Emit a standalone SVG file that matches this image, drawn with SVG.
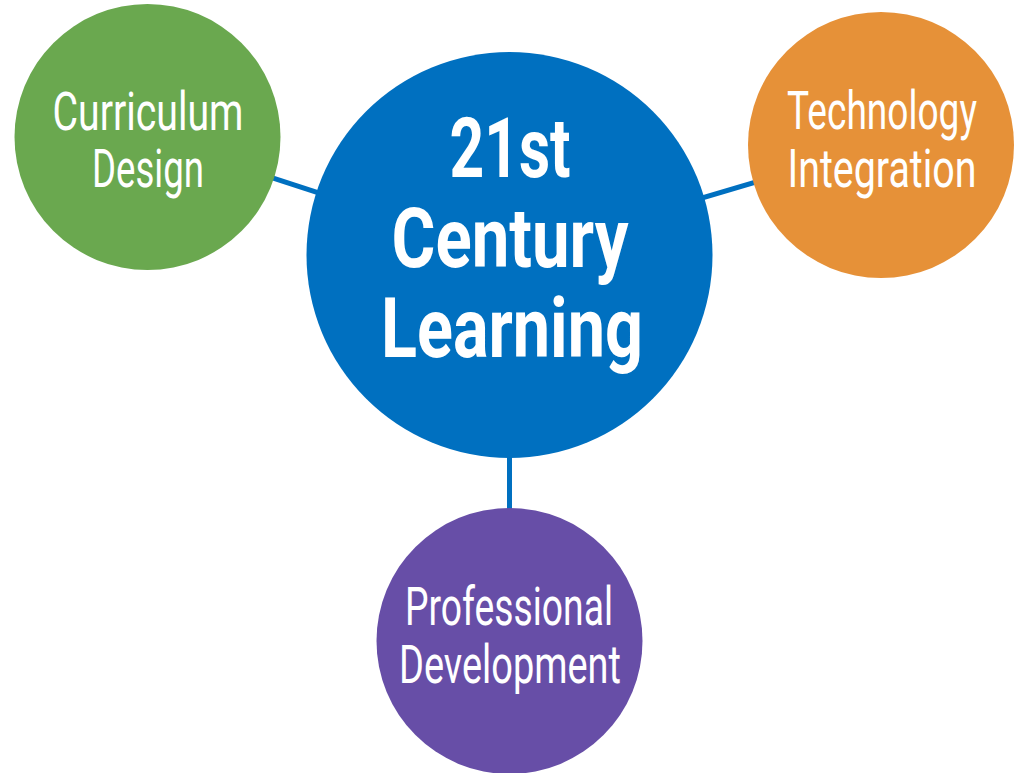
<svg xmlns="http://www.w3.org/2000/svg" width="1021" height="773" viewBox="0 0 1021 773">
<style>
.lbl{font-family:Roboto,"Liberation Sans",sans-serif;fill:#fff;text-anchor:middle;font-size:53px}
.main{font-family:Roboto,"Liberation Sans",sans-serif;fill:#fff;text-anchor:middle;font-size:84px;font-weight:bold}
.conn{stroke:#0070C0;stroke-width:5;fill:none}
</style>
<rect width="1021" height="773" fill="#fff"/>
<g id="connectors">
<line class="conn" x1="147" y1="137" x2="509.5" y2="255"/>
<line class="conn" x1="881" y1="145" x2="509.5" y2="255"/>
<line class="conn" x1="509.5" y1="255" x2="509.5" y2="641"/>
</g>
<g id="node-curriculum">
<circle cx="147.5" cy="137" r="133" fill="#6AA84F"/>
<text class="lbl" x="148" y="130" textLength="191" lengthAdjust="spacingAndGlyphs">Curriculum</text>
<text class="lbl" x="148" y="187" textLength="112" lengthAdjust="spacingAndGlyphs">Design</text>
</g>
<g id="node-technology">
<circle cx="881" cy="145" r="133" fill="#E69138"/>
<text class="lbl" x="882" y="129" textLength="190" lengthAdjust="spacingAndGlyphs">Technology</text>
<text class="lbl" x="882" y="187" textLength="189" lengthAdjust="spacingAndGlyphs">Integration</text>
</g>
<g id="node-center">
<circle cx="509.5" cy="255" r="203" fill="#0070C0"/>
<text class="main" x="510" y="177" textLength="121" lengthAdjust="spacingAndGlyphs">21st</text>
<text class="main" x="510" y="267" textLength="237" lengthAdjust="spacingAndGlyphs">Century</text>
<text class="main" x="512" y="357" textLength="262" lengthAdjust="spacingAndGlyphs">Learning</text>
</g>
<g id="node-professional">
<circle cx="509.5" cy="641" r="133" fill="#674EA7"/>
<text class="lbl" x="509" y="625" textLength="208" lengthAdjust="spacingAndGlyphs">Professional</text>
<text class="lbl" x="510" y="683" textLength="222" lengthAdjust="spacingAndGlyphs">Development</text>
</g>
</svg>
